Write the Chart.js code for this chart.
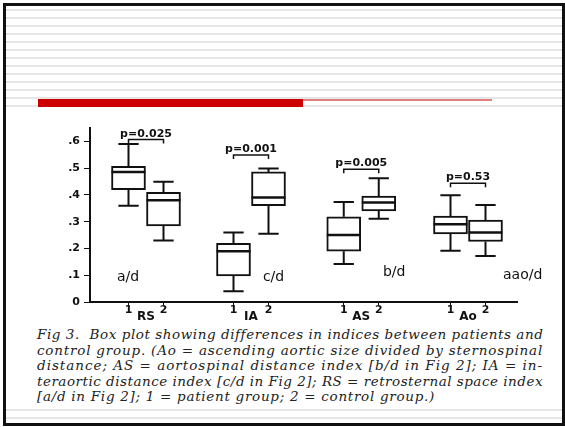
<!DOCTYPE html>
<html>
<head>
<meta charset="utf-8">
<script src="https://cdn.jsdelivr.net/npm/chart.js@4/dist/chart.umd.min.js"></script>
<style>
    html, body { margin: 0; padding: 0; background: #fff; }
    #page { position: relative; width: 565px; height: 427px; overflow: hidden; background: #fff; }
    .frame { position: absolute; left: 3px; top: 3px; width: 556px; height: 417px; border: 3px solid #111; }
    .stripes { position: absolute; left: 6px; top: 8px; width: 557px; height: 100px;
        background: repeating-linear-gradient(to bottom, #fff 0 1px, #e6e6e6 1px 3px, #fff 3px 8px); }
    .stripe-low { position: absolute; left: 6px; width: 557px; height: 2px; background: #e6e6e6; }
    .red-bar { position: absolute; left: 38px; top: 99px; width: 265px; height: 8px; background: #cc0000; }
    .red-line { position: absolute; left: 303px; top: 99px; width: 189px; height: 2px; background: #e08080; }
    #chart-wrap { position: absolute; left: 0; top: 0; width: 565px; height: 427px; }
    .caption { position: absolute; left: 37px; top: 327px; width: 506px;
        font: italic 13.5px 'DejaVu Serif', serif; color: #222; }
    .caption div { height: 15.5px; line-height: 15.5px; white-space: nowrap; }
</style>
</head>
<body>
<div id="page">
    <div class="stripes"></div>
    <div class="stripe-low" style="top: 409px;"></div>
    <div class="stripe-low" style="top: 417px;"></div>
    <div class="red-bar"></div>
    <div class="red-line"></div>
    <div class="frame"></div>
    <div class="caption" id="caption">
        <div><span>Fig 3.&nbsp; Box plot showing differences in indices between patients and</span></div>
        <div><span>control group. (Ao = ascending aortic size divided by sternospinal</span></div>
        <div><span>distance; AS = aortospinal distance index [b/d in Fig 2]; IA = in-</span></div>
        <div><span>teraortic distance index [c/d in Fig 2]; RS = retrosternal space index</span></div>
        <div class="last"><span>[a/d in Fig 2]; 1 = patient group; 2 = control group.)</span></div>
    </div>
    <div id="chart-wrap"><canvas id="box-chart"></canvas></div>
</div>

<script>
// Groups and boxes (1 = patient, 2 = control)
const groupNames = ['RS', 'IA', 'AS', 'Ao'];
const boxLabels = ['1', '2', '1', '2', '1', '2', '1', '2'];
const boxPositions = [1.1, 2.1, 4.1, 5.1, 7.25, 8.25, 10.3, 11.3];

// Box plot statistics
const mins    = [0.36, 0.23, 0.04, 0.255, 0.142, 0.311, 0.191, 0.172];
const q1s     = [0.42, 0.284, 0.097, 0.36, 0.19, 0.34, 0.254, 0.226];
const medians = [0.486, 0.38, 0.19, 0.39, 0.25, 0.372, 0.29, 0.26];
const q3s     = [0.507, 0.41, 0.219, 0.486, 0.318, 0.396, 0.321, 0.306];
const maxs    = [0.59, 0.449, 0.26, 0.499, 0.374, 0.462, 0.399, 0.362];

// Significance brackets
const pValues = ['p=0.025', 'p=0.001', 'p=0.005', 'p=0.53'];
const bracketLevels = [0.607, 0.549, 0.496, 0.444];

// Index labels written on the plot
const indexLabels = ['a/d', 'c/d', 'b/d', 'aao/d'];
const indexLabelX = [0.77, 4.94, 8.37, 11.8];
const indexLabelY = [0.093, 0.093, 0.112, 0.1];

const yTicks = [0, 0.1, 0.2, 0.3, 0.4, 0.5, 0.6];
const yTickLabels = ['0', '.1', '.2', '.3', '.4', '.5', '.6'];

const groupCenters = groupNames.map((_, g) => (boxPositions[g * 2] + boxPositions[g * 2 + 1]) / 2);

const BOLD = "bold 11px 'DejaVu Sans', sans-serif";
const CAPTION_WIDTH = 506;

// Whiskers, medians, brackets and labels drawn through the chart scales
const boxPlotExtras = {
    id: 'boxPlotExtras',
    beforeDatasetsDraw(chart) {
        const { ctx, scales: { x, y } } = chart;
        ctx.save();
        ctx.strokeStyle = '#111';
        ctx.lineWidth = 2;
        boxPositions.forEach((pos, i) => {
            const cx = x.getPixelForValue(pos);
            const capHalf = x.getPixelForValue(pos + 0.29) - cx;
            ctx.beginPath();
            ctx.moveTo(cx, y.getPixelForValue(maxs[i]));
            ctx.lineTo(cx, y.getPixelForValue(q3s[i]));
            ctx.moveTo(cx, y.getPixelForValue(q1s[i]));
            ctx.lineTo(cx, y.getPixelForValue(mins[i]));
            ctx.moveTo(cx - capHalf, y.getPixelForValue(maxs[i]));
            ctx.lineTo(cx + capHalf, y.getPixelForValue(maxs[i]));
            ctx.moveTo(cx - capHalf, y.getPixelForValue(mins[i]));
            ctx.lineTo(cx + capHalf, y.getPixelForValue(mins[i]));
            ctx.stroke();
        });
        ctx.restore();
    },
    afterDatasetsDraw(chart) {
        const { ctx, scales: { x, y } } = chart;
        ctx.save();
        ctx.strokeStyle = '#111';
        ctx.fillStyle = '#111';

        // Medians
        ctx.lineWidth = 2.5;
        boxPositions.forEach((pos, i) => {
            const cx = x.getPixelForValue(pos);
            const half = x.getPixelForValue(pos + 0.485) - cx;
            const my = y.getPixelForValue(medians[i]);
            ctx.beginPath();
            ctx.moveTo(cx - half, my);
            ctx.lineTo(cx + half, my);
            ctx.stroke();
        });

        // p-value brackets
        ctx.lineWidth = 1.5;
        ctx.font = BOLD;
        ctx.textAlign = 'center';
        ctx.textBaseline = 'alphabetic';
        pValues.forEach((label, g) => {
            const x1 = x.getPixelForValue(boxPositions[g * 2]);
            const x2 = x.getPixelForValue(boxPositions[g * 2 + 1]);
            const by = y.getPixelForValue(bracketLevels[g]);
            ctx.beginPath();
            ctx.moveTo(x1, by + 4);
            ctx.lineTo(x1, by);
            ctx.lineTo(x2, by);
            ctx.lineTo(x2, by + 4);
            ctx.stroke();
            ctx.fillText(label, (x1 + x2) / 2, by - 3);
        });

        // Index labels
        ctx.font = "14px 'DejaVu Sans', sans-serif";
        ctx.textAlign = 'left';
        ctx.textBaseline = 'middle';
        indexLabels.forEach((label, i) => {
            ctx.fillText(label, x.getPixelForValue(indexLabelX[i]), y.getPixelForValue(indexLabelY[i]));
        });
        ctx.restore();
    },
    afterDraw(chart) {
        // Group names under each pair of tick labels
        const { ctx, scales: { x } } = chart;
        ctx.save();
        ctx.fillStyle = '#111';
        ctx.font = "bold 12px 'DejaVu Sans', sans-serif";
        ctx.textAlign = 'center';
        ctx.textBaseline = 'middle';
        groupNames.forEach((name, g) => {
            ctx.fillText(name, x.getPixelForValue(groupCenters[g]), x.bottom - x.height + 15);
        });
        ctx.restore();
    }
};

// Stretch caption lines to the column width with letter spacing (justified look)
function fitCaption() {
    const lines = document.querySelectorAll('#caption div');
    let spacingSum = 0;
    let count = 0;
    lines.forEach(line => {
        if (line.classList.contains('last')) return;
        const span = line.querySelector('span');
        const natural = span.getBoundingClientRect().width;
        const spacing = (CAPTION_WIDTH - natural) / span.textContent.length;
        span.style.letterSpacing = spacing + 'px';
        spacingSum += spacing;
        count++;
    });
    const last = document.querySelector('#caption div.last span');
    last.style.letterSpacing = (spacingSum / count) + 'px';
}

function buildChart() {
    const ctx = document.getElementById('box-chart').getContext('2d');

    new Chart(ctx, {
        type: 'bar',
        data: {
            datasets: [{
                data: boxPositions.map((pos, i) => ({ x: pos, y: [q1s[i], q3s[i]] })),
                backgroundColor: '#fff',
                borderColor: '#111',
                borderWidth: 2,
                borderSkipped: false,
                barThickness: 34
            }]
        },
        options: {
            responsive: true,
            maintainAspectRatio: false,
            animation: false,
            layout: { padding: { left: 0, top: 128, right: 48, bottom: 0 } },
            plugins: {
                legend: { display: false },
                tooltip: { enabled: false }
            },
            scales: {
                x: {
                    type: 'linear',
                    position: 'bottom',
                    min: 0,
                    max: 12.2,
                    offset: false,
                    afterBuildTicks: (scale) => { scale.ticks = boxPositions.map(v => ({ value: v })); },
                    afterFit: (scale) => { scale.height = 125; },
                    grid: { offset: false, drawOnChartArea: false, drawTicks: true, tickLength: 3, color: '#111' },
                    border: { color: '#111', width: 2 },
                    ticks: {
                        autoSkip: false,
                        maxRotation: 0,
                        padding: -1,
                        color: '#111',
                        font: { family: "'DejaVu Sans', sans-serif", size: 11, weight: 'bold' },
                        callback: (value, index) => boxLabels[index]
                    }
                },
                y: {
                    type: 'linear',
                    min: 0,
                    max: 0.65,
                    afterBuildTicks: (scale) => { scale.ticks = yTicks.map(v => ({ value: v })); },
                    afterFit: (scale) => { scale.width = 90; },
                    grid: { drawOnChartArea: false, drawTicks: true, tickLength: 6, color: '#111' },
                    border: { color: '#111', width: 2 },
                    ticks: {
                        padding: 4,
                        color: '#111',
                        font: { family: "'DejaVu Sans', sans-serif", size: 11, weight: 'bold' },
                        callback: (value, index) => yTickLabels[index]
                    }
                }
            }
        },
        plugins: [boxPlotExtras]
    });
}

document.addEventListener('DOMContentLoaded', () => {
    fitCaption();
    buildChart();
});
</script>
</body>
</html>
